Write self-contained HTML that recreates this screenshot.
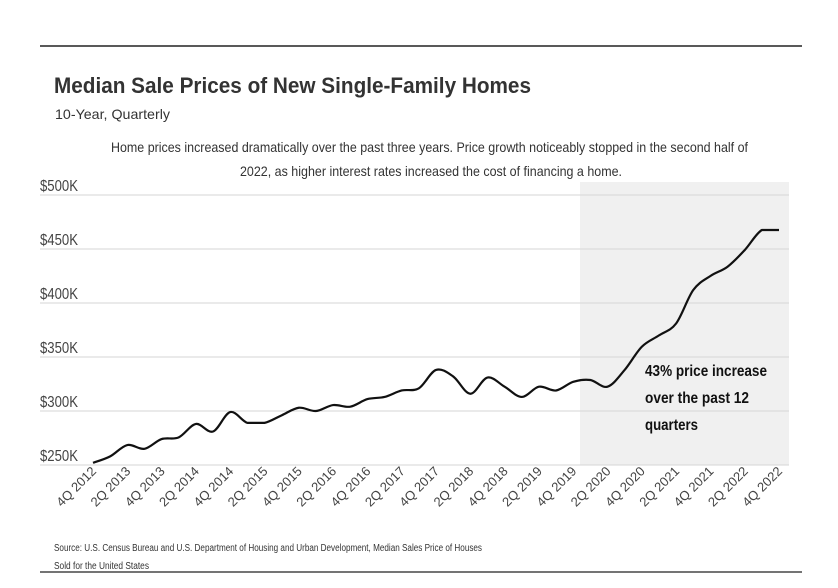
<!DOCTYPE html>
<html><head><meta charset="utf-8"><style>
html,body{margin:0;padding:0;background:#fff}
svg{display:block;font-family:"Liberation Sans",sans-serif}
</style></head><body>
<svg id="chart" width="838" height="588" viewBox="0 0 838 588" xmlns="http://www.w3.org/2000/svg">
<line x1="40" y1="46" x2="802" y2="46" stroke="#222" stroke-width="1.5"/>
<text x="54" y="93" font-size="22" font-weight="bold" fill="#333" textLength="477" lengthAdjust="spacingAndGlyphs">Median Sale Prices of New Single-Family Homes</text>
<text x="55" y="119" font-size="14" fill="#333" textLength="115" lengthAdjust="spacingAndGlyphs">10-Year, Quarterly</text>
<text x="111" y="152" font-size="14" fill="#333" textLength="637" lengthAdjust="spacingAndGlyphs">Home prices increased dramatically over the past three years. Price growth noticeably stopped in the second half of</text>
<text x="240" y="176" font-size="14" fill="#333" textLength="382" lengthAdjust="spacingAndGlyphs">2022, as higher interest rates increased the cost of financing a home.</text>
<rect x="580" y="182" width="209" height="283" fill="#f0f0f0"/>
<g id="grid"></g>
<g id="ylabels"></g>
<path id="line" fill="none" stroke="#111" stroke-width="2.2" stroke-linejoin="round"/>
<g id="xlabels"></g>
<g font-size="15.5" font-weight="bold" fill="#111">
<text x="645" y="376" textLength="122" lengthAdjust="spacingAndGlyphs">43% price increase</text>
<text x="645" y="403" textLength="104" lengthAdjust="spacingAndGlyphs">over the past 12</text>
<text x="645" y="430" textLength="53" lengthAdjust="spacingAndGlyphs">quarters</text>
</g>
<text x="54" y="551" font-size="10" fill="#333" textLength="428" lengthAdjust="spacingAndGlyphs">Source:  U.S. Census Bureau and U.S. Department of Housing and Urban Development, Median Sales Price of Houses</text>
<text x="54" y="569" font-size="10" fill="#333" textLength="95" lengthAdjust="spacingAndGlyphs">Sold for the United States</text>
<line x1="40" y1="572" x2="802" y2="572" stroke="#222" stroke-width="1.2"/>
</svg>
<script>
const yTicks = [250, 300, 350, 400, 450, 500];
const yTickLabels = ["$250K", "$300K", "$350K", "$400K", "$450K", "$500K"];
const quarters = [];
for (let y = 2012; y <= 2022; y++) for (let q = 1; q <= 4; q++) if (!(y === 2012 && q < 4)) quarters.push(q + "Q " + y);
const prices = [252,258,268.5,265,274,275.6,288,281,299,289,289,296,303,300,305.5,304,311,313,319,321,338,332,316,331,322.5,313,322.5,319,327,328.7,322.5,338,359.5,370,381,412,425,433.6,449,467.6,467.6];

const NS = "http://www.w3.org/2000/svg";
const xS = i => 93 + i * (779 - 93) / (quarters.length - 1);
const yS = v => 465 - (v - 250) * 1.08;

const grid = document.getElementById('grid'), yl = document.getElementById('ylabels'), xl = document.getElementById('xlabels');
yTicks.forEach((t, k) => {
  const l = document.createElementNS(NS, 'line');
  
  
  l.setAttribute('x1', 40); l.setAttribute('x2', 789);
  l.setAttribute('y1', yS(t)); l.setAttribute('y2', yS(t));
  l.setAttribute('stroke', '#d6d6d6'); l.setAttribute('stroke-width', '1');
  grid.appendChild(l);
  const tx = document.createElementNS(NS, 'text');
  
  
  tx.setAttribute('x', 40); tx.setAttribute('y', yS(t) - 4);
  tx.setAttribute('font-size', '16'); tx.setAttribute('fill', '#444');
  tx.setAttribute('textLength', '38'); tx.setAttribute('lengthAdjust', 'spacingAndGlyphs');
  tx.textContent = yTickLabels[k];
  yl.appendChild(tx);
});
quarters.forEach((q, i) => {
  if (i % 2) return;
  const tx = document.createElementNS(NS, 'text');
  
  
  const x = xS(i) + 4, y = 472;
  tx.setAttribute('x', x); tx.setAttribute('y', y);
  tx.setAttribute('text-anchor', 'end');
  tx.setAttribute('font-size', '13'); tx.setAttribute('fill', '#444');
  tx.setAttribute('textLength', '50'); tx.setAttribute('lengthAdjust', 'spacingAndGlyphs');
  tx.setAttribute('transform', `rotate(-45 ${x} ${y})`);
  tx.textContent = q;
  xl.appendChild(tx);
});
const pts = prices.map((v, i) => [xS(i), yS(v)]);
let d = `M${pts[0][0]},${pts[0][1]}`;
for (let i = 0; i < pts.length - 1; i++) {
  const p0 = pts[Math.max(0, i - 1)], p1 = pts[i], p2 = pts[i + 1], p3 = pts[Math.min(pts.length - 1, i + 2)];
  const t = 0.5 / 3;
  let c1y = p1[1] + (p2[1] - p0[1]) * t, c2y = p2[1] - (p3[1] - p1[1]) * t;
  if (p1[1] === p2[1]) { c1y = p1[1]; c2y = p2[1]; }
  d += ` C${p1[0] + (p2[0] - p0[0]) * t},${c1y} ${p2[0] - (p3[0] - p1[0]) * t},${c2y} ${p2[0]},${p2[1]}`;
}
document.getElementById('line').setAttribute('d', d);
</script>
</body></html>
